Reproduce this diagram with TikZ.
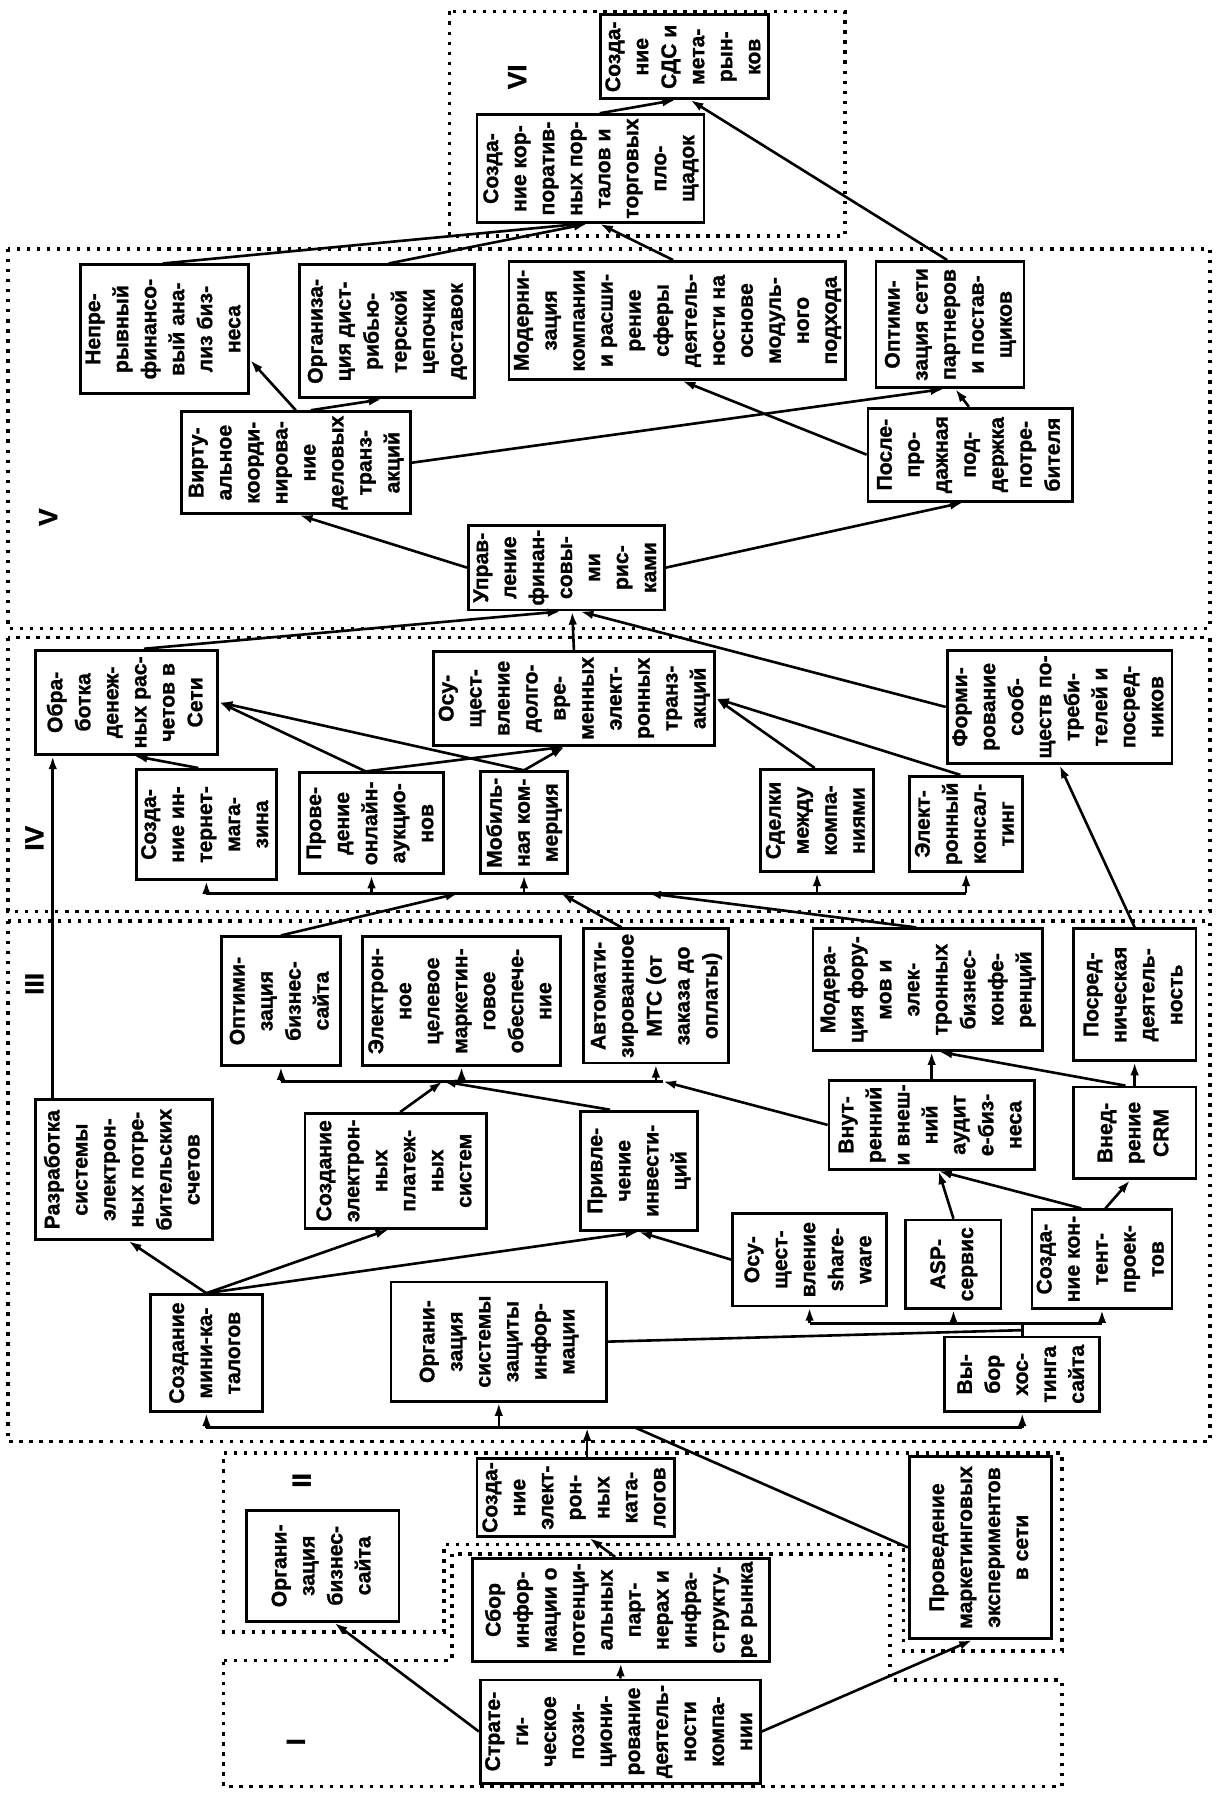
\documentclass[tikz,border=0pt]{standalone}
\usepackage{fontspec}
\setmainfont{Liberation Sans}[FakeBold=1.2]
\usepackage{graphicx}
\usetikzlibrary{arrows.meta,calc}
\newcommand{\vt}[1]{\rotatebox{90}{\begin{tabular}{@{}c@{}}#1\end{tabular}}}
\tikzset{
  box/.style={rectangle, draw, line width=1.4pt, fill=white, inner sep=0pt,
              font=\fontsize{10.5}{13.9}\selectfont\bfseries},
  sz/.style 2 args={minimum width=#1*0.2mm, minimum height=#2*0.2mm},
  stage/.style={font=\fontsize{13}{15}\selectfont\bfseries, rotate=90},
  flow/.style={-{Latex[length=2.3mm,width=1.5mm]}, line width=1.3pt},
  link/.style={line width=1.3pt},
  grp/.style={line width=1.8pt, dash pattern=on 0.6mm off 1.15mm}
}
\begin{document}
\begin{tikzpicture}[x=0.2mm, y=-0.2mm]
  \path[use as bounding box, fill=white] (0,0) rectangle (1063,1568);

  \draw[grp] (392,10) rectangle (737,206);
  \draw[grp] (7,217) rectangle (1055,548);
  \draw[grp] (7,556) rectangle (1055,795);
  \draw[grp] (7,803) rectangle (1055,1257);
  \draw[grp] (195,1267) -- (926,1267) -- (926,1440) -- (788,1440) -- (788,1347) -- (387,1347) -- (387,1423) -- (195,1423) -- cycle;
  \draw[grp] (195,1448) -- (394,1448) -- (394,1355) -- (776,1355) -- (776,1465) -- (926,1465) -- (926,1558) -- (195,1558) -- cycle;

  \node[stage] (lvi) at (451,67) {VI};
  \node[stage] (lv) at (42,451) {V};
  \node[stage] (liv) at (30,731) {IV};
  \node[stage] (liii) at (30,858) {III};
  \node[stage] (lii) at (263,1291) {II};
  \node[stage] (li) at (258,1519) {I};

  \node[box, sz={142}{73}] (sdc) at (597,49.5) {\vt{Созда-\\ние\\СДС и\\мета-\\рын-\\ков}};
  \node[box, sz={198}{94}] (portal) at (515,147) {\vt{Созда-\\ние кор-\\поратив-\\ных пор-\\талов и\\торговых\\пло-\\щадок}};

  \node[box, sz={147}{112}] (nepr) at (143.5,287) {\vt{Непре-\\рывный\\финансо-\\вый ана-\\лиз биз-\\неса}};
  \node[box, sz={153}{116}] (org) at (337.5,289) {\vt{Организа-\\ция дист-\\рибью-\\терской\\цепочки\\доставок}};
  \node[box, sz={289}{103}] (moderniz) at (590.5,279.5) {\vt{Модерни-\\зация\\компании\\и расши-\\рение\\сферы\\деятель-\\ности на\\основе\\модуль-\\ного\\подхода}};
  \node[box, sz={129}{110}] (optset) at (828.5,283) {\vt{Оптими-\\зация сети\\партнеров\\и постав-\\щиков}};
  \node[box, sz={200}{89}] (virt) at (258,403.5) {\vt{Вирту-\\альное\\коорди-\\нирова-\\ние\\деловых\\транз-\\акций}};
  \node[box, sz={178}{81}] (posl) at (846,396.5) {\vt{После-\\про-\\дажная\\под-\\держка\\потре-\\бителя}};
  \node[box, sz={166}{74}] (upr) at (494,495) {\vt{Управ-\\ление\\финан-\\совы-\\ми\\рис-\\ками}};

  \node[box, sz={159}{91}] (obr) at (110.5,612.5) {\vt{Обра-\\ботка\\денеж-\\ных рас-\\четов в\\Сети}};
  \node[box, sz={245}{82}] (dolg) at (500.5,609) {\vt{Осу-\\щест-\\вление\\долго-\\вре-\\менных\\элект-\\ронных\\транз-\\акций}};
  \node[box, sz={196}{99}] (form) at (924,616.5) {\vt{Форми-\\рование\\сооб-\\ществ по-\\треби-\\телей и\\посред-\\ников}};
  \node[box, sz={122}{96}] (inet) at (180,719) {\vt{Созда-\\ние ин-\\тернет-\\мага-\\зина}};
  \node[box, sz={126}{88}] (auk) at (324,718) {\vt{Прове-\\дение\\онлайн-\\аукцио-\\нов}};
  \node[box, sz={76}{89}] (mob) at (457,717.5) {\vt{Мобиль-\\ная ком-\\мерция}};
  \node[box, sz={99}{89}] (sdel) at (712.5,715.5) {\vt{Сделки\\между\\компа-\\ниями}};
  \node[box, sz={99}{83}] (kons) at (842.5,718.5) {\vt{Элект-\\ронный\\консал-\\тинг}};

  \node[box, sz={104}{112}] (optim) at (245,873) {\vt{Оптими-\\зация\\бизнес-\\сайта}};
  \node[box, sz={173}{112}] (elmark) at (402.5,873) {\vt{Электрон-\\ное\\целевое\\маркетин-\\говое\\обеспече-\\ние}};
  \node[box, sz={126}{117}] (mts) at (572,868.5) {\vt{Автомати-\\зированное\\МТС (от\\заказа до\\оплаты)}};
  \node[box, sz={200}{106}] (moder) at (809,863) {\vt{Модера-\\ция фору-\\мов и\\элек-\\тронных\\бизнес-\\конфе-\\ренций}};
  \node[box, sz={107}{115}] (posr) at (989.5,867.5) {\vt{Посред-\\ническая\\деятель-\\ность}};
  \node[box, sz={154}{122}] (razrab) at (108,1020) {\vt{Разработка\\системы\\электрон-\\ных потре-\\бительских\\счетов}};
  \node[box, sz={158}{100}] (plat) at (345,1021) {\vt{Создание\\электрон-\\ных\\платеж-\\ных\\систем}};
  \node[box, sz={102}{104}] (privl) at (557,1021) {\vt{Привле-\\чение\\инвести-\\ций}};
  \node[box, sz={179}{78}] (audit) at (812.5,981) {\vt{Внут-\\ренний\\и внеш-\\ний\\аудит\\е-биз-\\неса}};
  \node[box, sz={107}{80}] (crm) at (989.5,988) {\vt{Внед-\\рение\\CRM}};
  \node[box, sz={134}{81}] (share) at (706,1098.5) {\vt{Осу-\\щест-\\вление\\share-\\ware}};
  \node[box, sz={83}{77}] (asp) at (831.5,1102.5) {\vt{ASP-\\сервис}};
  \node[box, sz={122}{86}] (kontent) at (961,1098) {\vt{Созда-\\ние кон-\\тент-\\проек-\\тов}};
  \node[box, sz={98}{102}] (mini) at (180,1180) {\vt{Создание\\мини-ка-\\талогов}};
  \node[box, sz={188}{104}] (zasch) at (435,1170) {\vt{Органи-\\зация\\системы\\защиты\\инфор-\\мации}};
  \node[box, sz={135}{65}] (hosting) at (891.5,1198.5) {\vt{Вы-\\бор\\хос-\\тинга\\сайта}};

  \node[box, sz={133}{97}] (site) at (281.5,1365.5) {\vt{Органи-\\зация\\бизнес-\\сайта}};
  \node[box, sz={172}{68}] (sozdcat) at (502,1306) {\vt{Созда-\\ние\\элект-\\рон-\\ных\\ката-\\логов}};
  \node[box, sz={124}{159}] (provod) at (855,1349.5) {\vt{Проведение\\маркетинговых\\экспериментов\\в сети}};
  \node[box, sz={259}{90}] (sbor) at (541.5,1404) {\vt{Сбор\\инфор-\\мации о\\потенци-\\альных\\парт-\\нерах и\\инфра-\\структу-\\ре рынка}};
  \node[box, sz={240}{90}] (strat) at (541,1510) {\vt{Страте-\\ги-\\ческое\\пози-\\циони-\\рование\\деятель-\\ности\\компа-\\нии}};

  \coordinate (b3L) at (180,1245);
  \coordinate (b3R) at (891.5,1245);
  \coordinate (b3s) at (512,1245);
  \coordinate (b3p) at (554,1245);
  \coordinate (hbL) at (706,1154);
  \coordinate (hbR) at (961,1154);
  \coordinate (hj) at (891.5,1160);
  \coordinate (m3L) at (245,943);
  \coordinate (m3R) at (578,943);
  \coordinate (m3j) at (386,943);
  \coordinate (m4L) at (180,779);
  \coordinate (m4R) at (842.5,779);
  \coordinate (m4a) at (400,779);
  \coordinate (m4b) at (489,779);
  \coordinate (m4c) at (565,779);

  \draw[flow] (strat.west) -- ($(site.south)+(10,0)$);
  \draw[flow] (strat.north) -- (sbor.south);
  \draw[flow] (strat.east) -- ($(provod.south)+(-7,0)$);
  \draw[flow] ($(sbor.north)+(-5,0)$) -- ($(sozdcat.south)+(12,0)$);
  \draw[flow] (sozdcat.north -| b3s) -- (b3s);
  \draw[link] (provod.west) -- (b3p);
  \draw[link] (b3L) -- (b3R);
  \draw[flow] (b3L) -- (mini.south);
  \draw[flow] (zasch.south |- b3L) -- (zasch.south);
  \draw[flow] (b3R) -- (hosting.south);

  \draw[link] (hbL) -- (hbR);
  \draw[link] (hosting.north) -- (hosting.north |- hbL);
  \draw[flow] (hbL) -- (share.south);
  \draw[flow] (asp.south |- hbL) -- (asp.south);
  \draw[flow] (hbR) -- (kontent.south);
  \draw[link] (zasch.east) -- (hj);
  \draw[flow] (mini.north) -- ($(razrab.south)+(4,0)$);
  \draw[flow] (mini.north) -- ($(plat.south)+(-6,0)$);
  \draw[flow] (mini.north) -- (privl.south);
  \draw[flow] (share.west) -- (privl.south);
  \draw[flow] (asp.north) -- ($(audit.south)+(6,0)$);
  \draw[flow] ($(kontent.north)+(-18,0)$) -- ($(audit.south)+(6,0)$);
  \draw[flow] ($(kontent.north)+(3,0)$) -- ($(crm.south)+(-4,0)$);
  \draw[flow] (audit.north) -- (audit.north |- moder.south);
  \draw[flow] ($(crm.north)+(-8,0)$) -- ($(moder.south)+(10,0)$);
  \draw[flow] (crm.north) -- (posr.south);
  \draw[flow] (audit.west) -- (m3R);
  \draw[link] (m3L) -- (m3R);
  \draw[flow] (m3L) -- (optim.south);
  \draw[flow] (elmark.south |- m3L) -- (elmark.south);
  \draw[flow] (mts.south |- m3L) -- (mts.south);
  \draw[flow] ($(plat.north)+(4,0)$) -- (m3j);
  \draw[flow] ($(privl.north)+(-25,0)$) -- (m3j);

  \draw[link] (m4L) -- (m4R);
  \draw[flow] (m4L) -- (inet.south);
  \draw[flow] (auk.south |- m4L) -- (auk.south);
  \draw[flow] (mob.south |- m4L) -- (mob.south);
  \draw[flow] (sdel.south |- m4L) -- (sdel.south);
  \draw[flow] (m4R) -- (kons.south);
  \draw[flow] (optim.north) -- (m4a);
  \draw[flow] ($(mts.north)+(-30,0)$) -- (m4b);
  \draw[flow] ($(moder.north)+(-10,0)$) -- (m4c);
  \draw[flow] ($(razrab.north)+(-62,0)$) -- ($(obr.south)+(-64.5,0)$);

  \draw[flow] ($(inet.north)+(-7,0)$) -- ($(obr.south)+(6.5,0)$);
  \draw[flow] ($(auk.north)+(-5,0)$) -- (obr.east);
  \draw[flow] ($(auk.north)+(-5,0)$) -- ($(dolg.south)+(-8,0)$);
  \draw[flow] (mob.north) -- (obr.east);
  \draw[flow] (mob.north) -- ($(dolg.south)+(-8,0)$);
  \draw[flow] ($(sdel.north)+(-2,0)$) -- (dolg.east);
  \draw[flow] ($(kons.north)+(-5,0)$) -- (dolg.east);
  \draw[flow] (posr.north) -- (form.south);
  \draw[flow] (dolg.north) -- ($(upr.south)+(5,0)$);
  \draw[flow] ($(obr.north)+(15,0)$) -- ($(upr.south)+(-5,0)$);
  \draw[flow] (form.west) -- ($(upr.south)+(12,0)$);

  \draw[flow] (upr.west) -- ($(virt.south)+(3,0)$);
  \draw[flow] (upr.east) -- ($(posl.south)+(-6,0)$);
  \draw[flow] (virt.east) -- ($(optset.south)+(-5.5,0)$);
  \draw[flow] ($(posl.north)+(-1,0)$) -- ($(optset.south)+(4.5,0)$);
  \draw[flow] (posl.west) -- ($(moderniz.south)+(4.5,0)$);
  \draw[flow] ($(virt.north)+(13,0)$) -- ($(org.south)+(-4.5,0)$);
  \draw[flow] (virt.north) -- ($(nepr.east)+(0,27)$);

  \draw[flow] ($(nepr.north)+(-1.5,0)$) -- ($(portal.south)+(-9,0)$);
  \draw[flow] ($(org.north)+(1.5,0)$) -- ($(portal.south)+(-3,0)$);
  \draw[flow] ($(moderniz.north)+(-3.5,0)$) -- ($(portal.south)+(8,0)$);
  \draw[flow] ($(optset.north)+(-2.5,0)$) -- ($(sdc.south)+(5,0)$);
  \draw[flow] ($(portal.north)+(8,0)$) -- ($(sdc.south)+(-8,0)$);
\end{tikzpicture}
\end{document}
